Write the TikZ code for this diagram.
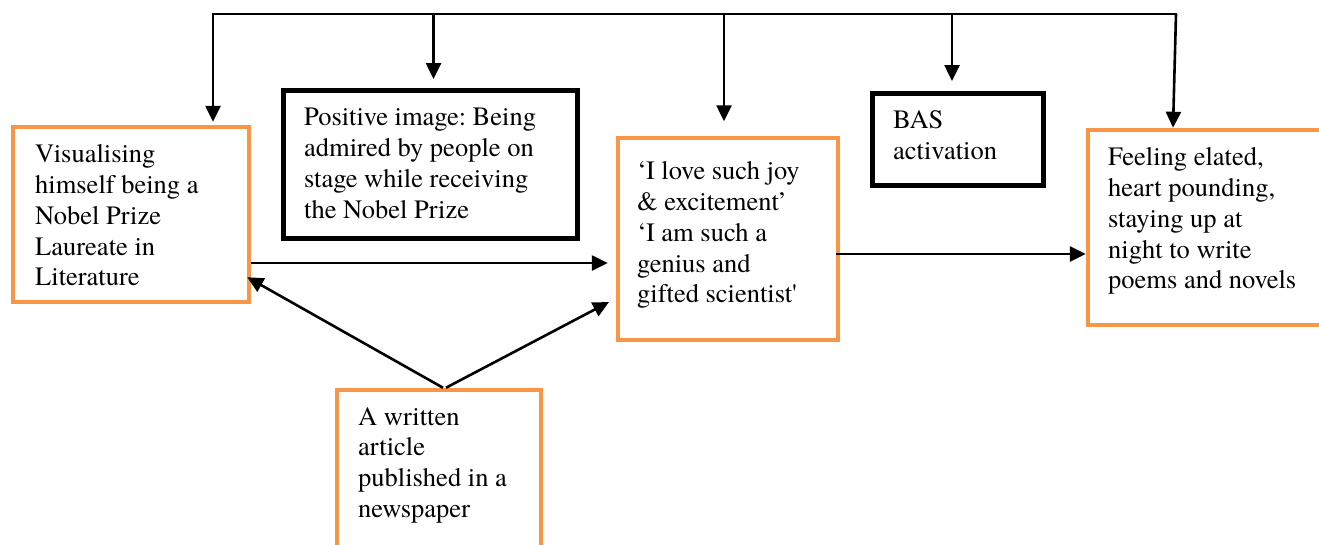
\documentclass[tikz,border=0pt]{standalone}
\usepackage{fontspec}
\setmainfont{TeX Gyre Termes}
\usetikzlibrary{arrows.meta,calc}
\definecolor{boxorange}{HTML}{F79646}
\frenchspacing
\begin{document}
\begin{tikzpicture}[x=1pt,y=-1pt,
  obox/.style={draw=boxorange,line width=4.5pt,rectangle,inner sep=0pt},
  kbox/.style={draw=black,line width=5pt,rectangle,inner sep=0pt},
  txt/.style={anchor=north west,inner sep=0pt,align=left,font={\rmfamily\frenchspacing\fontsize{26.5}{30.9}\selectfont}},
  conn/.style={line width=2.6pt},
  arr/.style={line width=2.6pt,-{Triangle[length=16pt,width=15pt]}}]
\useasboundingbox (0,0) rectangle (1319,544);
\clip (0,0) rectangle (1319,544);
% boxes
\node[obox,minimum width=236pt,minimum height=175pt] (left) at (131,214.5) {};
\node[kbox,minimum width=294pt,minimum height=148pt] (pos) at (430,164) {};
\node[obox,minimum width=220pt,minimum height=202pt] (mid) at (728,239) {};
\node[kbox,minimum width=171pt,minimum height=92pt] (bas) at (957.5,139) {};
\node[obox,minimum width=247pt,minimum height=195pt] (right) at (1211.5,227.5) {};
\node[obox,minimum width=204pt,minimum height=170pt] (bot) at (439,475) {};
% texts
\node[txt] (lefttxt) at (35,144) {Visualising\\himself being a\\Nobel Prize\\Laureate in\\Literature};
\node[txt] (postxt) at (304,108) {Positive image: Being\\admired by people on\\stage while receiving\\the Nobel Prize};
\node[txt] (midtxt) at (637,161) {‘I love such joy\\\& excitement’\\‘I am such a\\genius and\\gifted scientist\textquotesingle};
\node[txt] (bastxt) at (893,110) {BAS\\activation};
\node[txt] (righttxt) at (1108,147) {Feeling elated,\\heart pounding,\\staying up at\\night to write\\poems and novels};
\node[txt] (bottxt) at (358,407) {A written\\article\\published in a\\newspaper};
% top bar
\coordinate (t1) at (213,14);
\coordinate (t2) at (433.5,14);
\coordinate (t3) at (724,14);
\coordinate (t4) at (952,14);
\coordinate (t5) at (1176,14);
\draw[conn] ([xshift=-1.3pt]t1) -- ([xshift=1.3pt]t5);
\draw[arr,shorten >=3pt] (t1) -- (t1 |- left.north);
\draw[arr,shorten >=8.5pt] (t2) -- (t2 |- pos.north);
\draw[arr,shorten >=14.5pt] (t3) -- (t3 |- mid.north);
\draw[arr,shorten >=9.5pt] (t4) -- (t4 |- bas.north);
\draw[arr] (t5) -- ($(t5 |- right.north)+(-3,0)$);
% horizontal arrows
\draw[arr,shorten >=8pt] ([yshift=-48.5pt]left.east) -- ([yshift=-24pt]mid.west);
\draw[arr] ([xshift=-4pt,yshift=-15pt]mid.east) -- ([yshift=-26.5pt]right.west);
% from bottom box
\draw[arr] ([xshift=4pt]bot.north) -- ([xshift=-4pt,yshift=27pt]left.south east);
\draw[arr] ([xshift=7pt]bot.north) -- ([xshift=-6.75pt,yshift=-63pt]mid.west);
\end{tikzpicture}
\end{document}
